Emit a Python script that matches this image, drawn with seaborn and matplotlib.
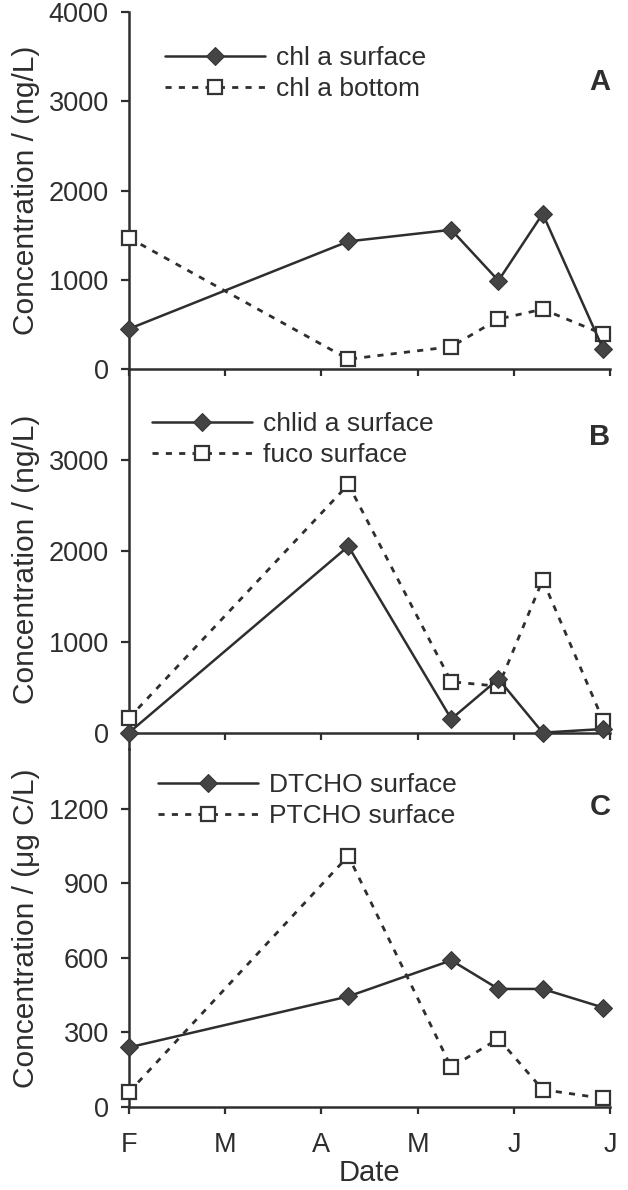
import matplotlib
matplotlib.use("Agg")
import matplotlib.pyplot as plt
import seaborn as sns
import pandas as pd

# sampling dates, as fractional months after 1 February
sample_month = [0.0, 2.28, 3.35, 3.84, 4.30, 4.93]
month_ticks = [0, 1, 2, 3, 4, 5]
month_labels = ["F", "M", "A", "M", "J", "J"]

chla_surface = [450, 1430, 1560, 990, 1740, 220]
chla_bottom = [1470, 110, 250, 560, 670, 390]
chlida_surface = [0, 2050, 150, 590, 0, 40]
fuco_surface = [160, 2730, 560, 510, 1680, 130]
dtcho_surface = [240, 445, 590, 475, 475, 400]
ptcho_surface = [60, 1010, 160, 275, 70, 35]

sns.set_style("ticks")
plt.rcParams["font.family"] = ["Liberation Sans", "DejaVu Sans"]

ink = "#2e2e2e"
plt.rcParams.update({
    "text.color": ink, "axes.labelcolor": ink,
    "xtick.color": ink, "ytick.color": ink, "axes.edgecolor": ink,
})

fig = plt.figure(figsize=(6.28, 11.9), dpi=100)
left, width = 0.2054, 0.766
axA = fig.add_axes([left, 0.6899, width, 0.300])
axB = fig.add_axes([left, 0.3706, width, 0.3193])
axC = fig.add_axes([left, 0.0697, width, 0.3009])

solid_kw = dict(color=ink, linewidth=1.8, linestyle="-", marker="D", markersize=8.8,
                markerfacecolor="#444444", markeredgecolor="#333333", clip_on=False, zorder=4)
dash_kw = dict(color=ink, linewidth=2.0, linestyle=(0, (2.2, 2.6)), marker="s", markersize=9.5,
               markerfacecolor="white", markeredgecolor="#333333", markeredgewidth=1.6,
               clip_on=False, zorder=3)

panels = [
    (axA, chla_surface, "chl a surface", chla_bottom, "chl a bottom",
     (0, 4000), [0, 1000, 2000, 3000, 4000], "Concentration / (ng/L)", "A",
     (0.075, 0.905), 0.804),
    (axB, chlida_surface, "chlid a surface", fuco_surface, "fuco surface",
     (-180, 4000), [0, 1000, 2000, 3000], "Concentration / (ng/L)", "B",
     (0.048, 0.887), 0.821),
    (axC, dtcho_surface, "DTCHO surface", ptcho_surface, "PTCHO surface",
     (0, 1440), [0, 300, 600, 900, 1200], "Concentration / (\u03bcg C/L)", "C",
     (0.060, 0.933), 0.838),
]

for ax, s1, l1, s2, l2, ylim, yticks, ylab, letter, leg_xy, let_y in panels:
    df = pd.DataFrame({"month": sample_month, "s1": s1, "s2": s2})
    sns.lineplot(data=df, x="month", y="s2", ax=ax, label=l2, **dash_kw)
    sns.lineplot(data=df, x="month", y="s1", ax=ax, label=l1, **solid_kw)
    ax.set_xlim(0, 5)
    ax.set_ylim(*ylim)
    ax.set_yticks(yticks)
    ax.set_xticks(month_ticks)
    ax.tick_params(axis="y", labelsize=19.5, length=5.5, width=1.6, direction="out", pad=9)
    ax.tick_params(axis="x", labelsize=19.5, length=5, width=1.6, direction="out", pad=13)
    for side in ["top", "right"]:
        ax.spines[side].set_visible(False)
    for side in ["left", "bottom"]:
        ax.spines[side].set_linewidth(1.8)
    ax.spines["bottom"].set_position(("data", 0))
    ax.set_ylabel(ylab, fontsize=21.5)
    ax.yaxis.set_label_coords(-0.185, 0.5)
    ax.set_xlabel("")
    h, lab = ax.get_legend_handles_labels()
    ax.legend(h[::-1], lab[::-1], loc="upper left", bbox_to_anchor=leg_xy, frameon=False,
              fontsize=19, handlelength=3.8, handletextpad=0.4, labelspacing=0.28,
              borderpad=0, borderaxespad=0)
    ax.text(0.979, let_y, letter, transform=ax.transAxes, fontsize=21,
            fontweight="bold", ha="center", va="center")
    ax.patch.set_alpha(0)

axA.set_xticklabels([])
axB.set_xticklabels([])
axC.set_xticklabels(month_labels)
axC.set_xlabel("Date", fontsize=21, labelpad=1)

fig.savefig("out.png", dpi=100)
